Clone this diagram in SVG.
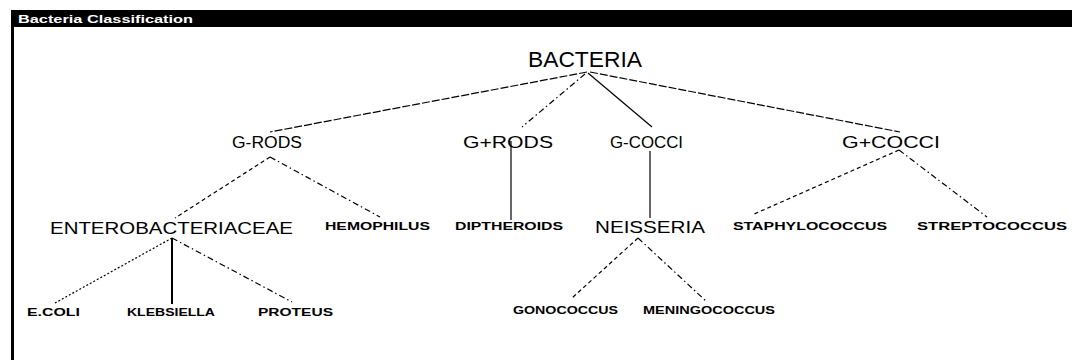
<svg xmlns="http://www.w3.org/2000/svg" width="1072" height="360" viewBox="0 0 1072 360">
<style>
.bg{fill:#fff}
.big{font-family:"Liberation Sans",Arial,sans-serif;font-size:22px;fill:#000}
.mid{font-family:"Liberation Sans",Arial,sans-serif;font-size:16px;fill:#000}
.mid2{font-family:"Liberation Sans",Arial,sans-serif;font-size:17px;fill:#000}
.sm{font-family:"Liberation Sans",Arial,sans-serif;font-size:10px;font-weight:bold;fill:#000}
.title{font-family:"Liberation Sans",Arial,sans-serif;font-size:11px;font-weight:bold;fill:#fff}
.e{stroke:#000;stroke-width:1.2;fill:none}
.dash{stroke-dasharray:8 2}
.sdash{stroke-dasharray:4 3}
.dd{stroke-dasharray:6 3 1.5 3}
.dot{stroke-dasharray:2 2}
.thick{stroke-width:2}
</style>
<rect class="bg" x="0" y="0" width="1072" height="360"/>
<g id="window">
<rect x="11" y="10" width="1061" height="17" fill="#000"/>
<rect x="11" y="10" width="3" height="350" fill="#000"/>
<text class="title" x="18" y="23" textLength="175" lengthAdjust="spacingAndGlyphs">Bacteria Classification</text>
</g>
<g id="connectors">
<line class="e dash" x1="587" y1="72" x2="270" y2="132"/>
<line class="e dd" x1="585" y1="74" x2="522" y2="127"/>
<line class="e" x1="588" y1="73" x2="652" y2="127"/>
<line class="e dash" x1="590" y1="72" x2="900" y2="132"/>
<line class="e sdash" x1="270" y1="157" x2="175" y2="218"/>
<line class="e dd" x1="270" y1="157" x2="380" y2="217"/>
<line class="e" x1="511" y1="141" x2="511" y2="220"/>
<line class="e" x1="650" y1="151" x2="650" y2="218"/>
<line class="e sdash" x1="899" y1="150" x2="752" y2="215"/>
<line class="e dd" x1="899" y1="150" x2="987" y2="217"/>
<line class="e dot" x1="172" y1="238" x2="55" y2="303"/>
<line class="e thick" x1="172" y1="238" x2="172" y2="304"/>
<line class="e dd" x1="172" y1="238" x2="292" y2="302"/>
<line class="e sdash" x1="638" y1="238" x2="572" y2="298"/>
<line class="e dd" x1="638" y1="238" x2="707" y2="302"/>
</g>
<g id="bacteria"><text class="big" x="528" y="67" textLength="114" lengthAdjust="spacingAndGlyphs">BACTERIA</text></g>
<g id="g-rods"><text class="mid" x="232" y="148" textLength="70" lengthAdjust="spacingAndGlyphs">G-RODS</text></g>
<g id="g-plus-rods"><text class="mid" x="463" y="148" textLength="90" lengthAdjust="spacingAndGlyphs">G+RODS</text></g>
<g id="g-cocci"><text class="mid" x="610" y="148" textLength="73" lengthAdjust="spacingAndGlyphs">G-COCCI</text></g>
<g id="g-plus-cocci"><text class="mid" x="842" y="148" textLength="98" lengthAdjust="spacingAndGlyphs">G+COCCI</text></g>
<g id="enterobacteriaceae"><text class="mid2" x="50" y="234" textLength="243" lengthAdjust="spacingAndGlyphs">ENTEROBACTERIACEAE</text></g>
<g id="hemophilus"><text class="sm" x="325" y="230" textLength="105" lengthAdjust="spacingAndGlyphs">HEMOPHILUS</text></g>
<g id="diptheroids"><text class="sm" x="455" y="230" textLength="108" lengthAdjust="spacingAndGlyphs">DIPTHEROIDS</text></g>
<g id="neisseria"><text class="mid2" x="595" y="233" textLength="110" lengthAdjust="spacingAndGlyphs">NEISSERIA</text></g>
<g id="staphylococcus"><text class="sm" x="733" y="230" textLength="154" lengthAdjust="spacingAndGlyphs">STAPHYLOCOCCUS</text></g>
<g id="streptococcus"><text class="sm" x="917" y="230" textLength="150" lengthAdjust="spacingAndGlyphs">STREPTOCOCCUS</text></g>
<g id="ecoli"><text class="sm" x="27" y="316" textLength="53" lengthAdjust="spacingAndGlyphs">E.COLI</text></g>
<g id="klebsiella"><text class="sm" x="127" y="316" textLength="88" lengthAdjust="spacingAndGlyphs">KLEBSIELLA</text></g>
<g id="proteus"><text class="sm" x="258" y="316" textLength="75" lengthAdjust="spacingAndGlyphs">PROTEUS</text></g>
<g id="gonococcus"><text class="sm" x="513" y="314" textLength="105" lengthAdjust="spacingAndGlyphs">GONOCOCCUS</text></g>
<g id="meningococcus"><text class="sm" x="643" y="314" textLength="132" lengthAdjust="spacingAndGlyphs">MENINGOCOCCUS</text></g>
</svg>
